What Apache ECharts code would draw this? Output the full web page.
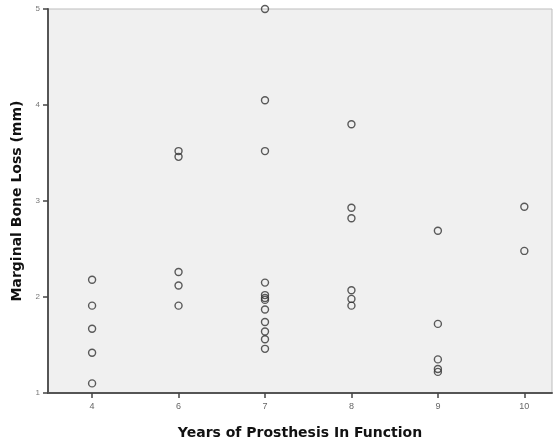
<!DOCTYPE html>
<html>
<head>
<meta charset="utf-8">
<script src="https://cdn.jsdelivr.net/npm/echarts@6/dist/echarts.min.js"></script>
<style>html,body{margin:0;padding:0;background:#fff;}#c{width:558px;height:445px;}</style>
</head>
<body>
<div id="c"></div>
<script>
const categories = ['4', '6', '7', '8', '9', '10'];
const years4 = [2.18, 1.91, 1.67, 1.42, 1.10];
const years6 = [3.52, 3.46, 2.26, 2.12, 1.91];
const years7 = [5.0, 4.05, 3.52, 2.15, 2.02, 1.99, 1.97, 1.87, 1.74, 1.64, 1.56, 1.46];
const years8 = [3.80, 2.93, 2.82, 2.07, 1.98, 1.91];
const years9 = [2.69, 1.72, 1.35, 1.25, 1.22];
const years10 = [2.94, 2.48];
const yTicks = [1, 2, 3, 4, 5];

const groups = [years4, years6, years7, years8, years9, years10];
const points = [];
groups.forEach((g, i) => g.forEach(v => points.push([i, v])));
const catIdx = categories.map((c, i) => i);

const chart = echarts.init(document.getElementById('c'));
chart.setOption({
  animation: false,
  backgroundColor: '#fff',
  grid: {left: 48, top: 9, right: 6, bottom: 48, show: true, backgroundColor: '#f0f0f0', borderColor: '#bdbdbd', borderWidth: 1},
  xAxis: {
    type: 'value', min: -0.51, max: 5.32,
    name: 'Years of Prosthesis In Function', nameLocation: 'middle', nameGap: 33,
    nameTextStyle: {fontFamily: 'DejaVu Sans', fontWeight: 'bold', fontSize: 14, color: '#111'},
    axisLine: {show: true, onZero: false, lineStyle: {color: '#555', width: 2}},
    axisTick: {show: true, customValues: catIdx, length: 5, lineStyle: {color: '#444', width: 1.5}},
    axisLabel: {customValues: catIdx, formatter: v => categories[Math.round(v)], fontSize: 9, color: '#666', margin: 9, fontFamily: 'Liberation Sans'},
    splitLine: {show: false}
  },
  yAxis: {
    type: 'value', min: yTicks[0], max: yTicks[yTicks.length - 1], interval: 1,
    name: 'Marginal Bone Loss (mm)', nameLocation: 'middle', nameGap: 24,
    nameTextStyle: {fontFamily: 'DejaVu Sans', fontWeight: 'bold', fontSize: 14, color: '#111'},
    axisLine: {show: true, onZero: false, lineStyle: {color: '#555', width: 2}},
    axisTick: {show: true, length: 5, lineStyle: {color: '#444', width: 1.5}},
    axisLabel: {fontSize: 8, color: '#777', margin: 8, fontFamily: 'Liberation Sans'},
    splitLine: {show: false}
  },
  series: [{
    type: 'scatter',
    data: points,
    symbol: 'circle',
    symbolSize: 7,
    itemStyle: {color: 'rgba(0,0,0,0)', borderColor: '#333', borderWidth: 1.4}
  }]
});
</script>
</body>
</html>
